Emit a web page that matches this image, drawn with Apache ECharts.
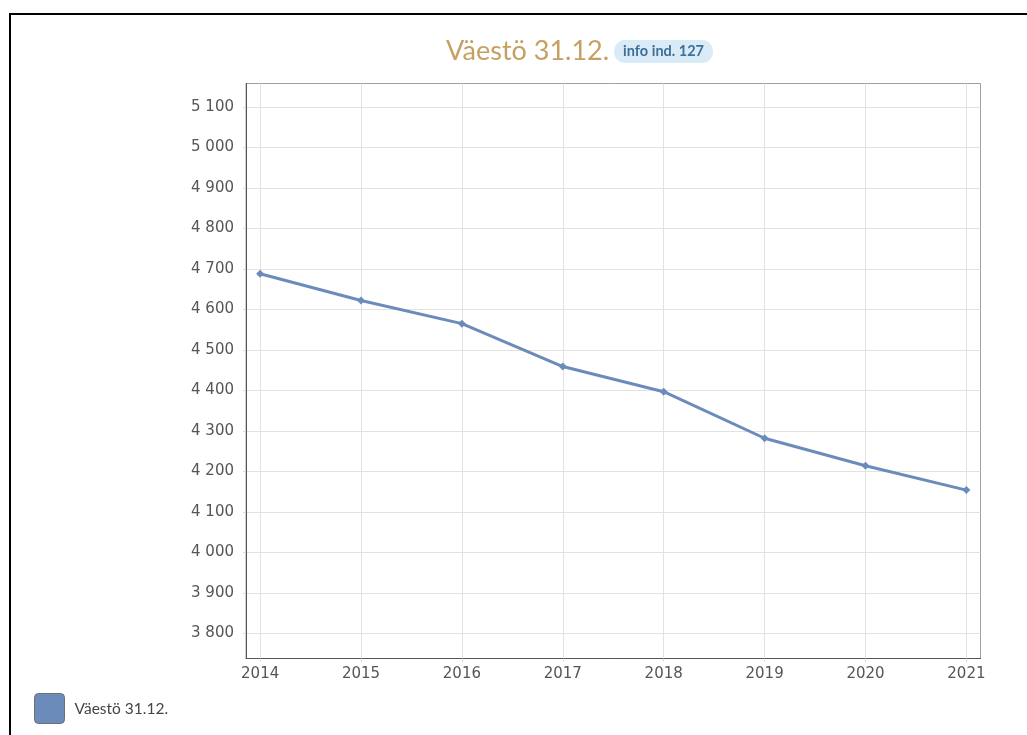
<!DOCTYPE html>
<html>
<head>
<meta charset="utf-8">
<script src="https://cdn.jsdelivr.net/npm/echarts@6/dist/echarts.min.js"></script>
<style>
html,body{margin:0;padding:0;background:#fff;overflow:hidden;}
#frame{position:absolute;left:9px;top:13px;width:1100px;height:800px;border-top:2px solid #000;border-left:2px solid #000;}
#chart{position:absolute;left:0;top:0;width:1027px;height:735px;}
</style>
</head>
<body>
<div id="frame"></div>
<div id="chart"></div>
<script>
const years = [2014, 2015, 2016, 2017, 2018, 2019, 2020, 2021];
const values = [4688, 4622, 4565, 4459, 4397, 4282, 4214, 4154];
const seriesName = 'Väestö 31.12.';
const titleText = 'Väestö 31.12.';
const badgeText = 'info ind. 127';

const fmt = v => String(v).replace(/\B(?=(\d{3})+(?!\d))/g, ' ');

const chart = echarts.init(document.getElementById('chart'), null, {renderer: 'canvas'});
chart.setOption({
  animation: false,
  backgroundColor: 'transparent',
  title: {
    text: '{t|' + titleText + '} {b|' + badgeText + '}',
    left: 441,
    top: 33,
    textStyle: {
      fontWeight: 'normal',
      rich: {
        t: {fontFamily: 'Lato', fontSize: 27, fontWeight: 'normal', color: '#c6a062', verticalAlign: 'middle'},
        b: {fontFamily: 'Lato', fontSize: 14.5, fontWeight: 'bold', color: '#3f6f98',
            backgroundColor: '#d8ebf7', borderRadius: 11, padding: [4, 9, 4, 9], verticalAlign: 'middle'}
      }
    }
  },
  legend: {
    left: 34,
    top: 693,
    padding: 0,
    itemWidth: 30,
    itemHeight: 30,
    icon: 'path://M4,0 H26 A4,4 0 0 1 30,4 V26 A4,4 0 0 1 26,30 H4 A4,4 0 0 1 0,26 V4 A4,4 0 0 1 4,0 Z',
    itemStyle: {color: '#6b8cba', borderColor: '#6f6f6f', borderWidth: 1},
    textStyle: {fontFamily: 'Lato', fontSize: 15.5, color: '#444', padding: [0, 0, 0, 5]},
    data: [seriesName]
  },
  grid: {
    left: 246, right: 46.5, top: 83.5, bottom: 76.5,
    show: true, borderColor: '#a0a0a0', borderWidth: 1, backgroundColor: 'transparent'
  },
  xAxis: {
    type: 'value',
    min: 2013.86, max: 2021.14,
    minInterval: 1, maxInterval: 1,
    axisLine: {show: true, onZero: false, lineStyle: {color: '#555', width: 1}},
    axisTick: {show: true, length: 3, lineStyle: {color: '#d8d8d8'}},
    splitLine: {show: true, showMinLine: false, showMaxLine: false, lineStyle: {color: '#e2e2e2', width: 1}},
    axisLabel: {
      fontFamily: 'DejaVu Sans', fontSize: 15, color: '#555', margin: 8,
      showMinLabel: false, showMaxLabel: false,
      formatter: v => (Math.abs(v - Math.round(v)) < 1e-6 ? String(Math.round(v)) : '')
    }
  },
  yAxis: {
    type: 'value',
    min: 3738.3, max: 5157.8,
    minInterval: 100, maxInterval: 100,
    axisLine: {show: true, onZero: false, lineStyle: {color: '#555', width: 1}},
    axisTick: {show: true, length: 3, lineStyle: {color: '#d8d8d8'}},
    splitLine: {show: true, showMinLine: false, showMaxLine: false, lineStyle: {color: '#e2e2e2', width: 1}},
    axisLabel: {
      fontFamily: 'DejaVu Sans', fontSize: 15, color: '#555', margin: 12,
      showMinLabel: false, showMaxLabel: false,
      formatter: v => (Math.abs(v % 100) < 1e-6 ? fmt(Math.round(v)) : '')
    }
  },
  series: [{
    name: seriesName,
    type: 'line',
    data: years.map((y, i) => [y, values[i]]),
    symbol: 'diamond',
    symbolSize: 8,
    showSymbol: true,
    lineStyle: {color: '#6b8cba', width: 3},
    itemStyle: {color: '#6b8cba'},
    emphasis: {disabled: true}
  }]
});
</script>
</body>
</html>
